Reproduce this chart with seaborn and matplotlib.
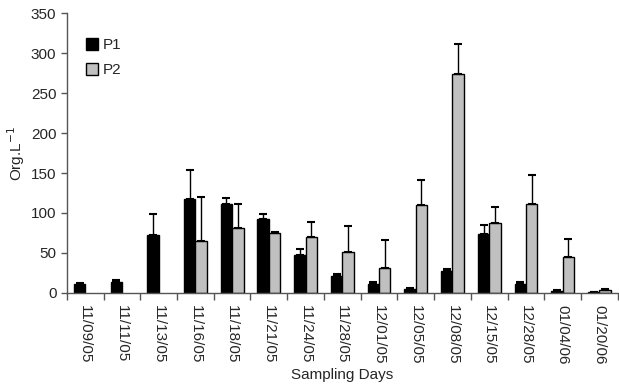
import numpy as np
import pandas as pd
import matplotlib
matplotlib.use("Agg")
import matplotlib.pyplot as plt
from matplotlib.patches import Patch
import seaborn as sns

# --- Data ---
dates = ['11/09/05', '11/11/05', '11/13/05', '11/16/05', '11/18/05', '11/21/05',
         '11/24/05', '11/28/05', '12/01/05', '12/05/05', '12/08/05', '12/15/05',
         '12/28/05', '01/04/06', '01/20/06']
p1_mean = [11.5, 14, 73, 118, 111, 93, 48, 21, 11, 5, 27, 74, 11.5, 2, 1]
p1_err = [1, 2, 26, 36, 8, 6, 7, 3, 2.5, 1, 2.5, 11, 2, 1, 0.5]
p2_mean = [np.nan, np.nan, np.nan, 65, 81, 75, 70, 51, 31, 110, 274, 88, 111, 45, 3]
p2_err = [np.nan, np.nan, np.nan, 55, 30, 1, 19, 33, 35, 31, 37, 19, 37, 22, 1.5]

series = ['P1', 'P2']
colors = {'P1': 'black', 'P2': '#C0C0C0'}

df = pd.DataFrame({
    'date': dates * 2,
    'series': ['P1'] * len(dates) + ['P2'] * len(dates),
    'value': p1_mean + p2_mean,
    'err': p1_err + p2_err,
})

# --- Plotting ---
sns.set_style('white')
plt.rcParams['font.family'] = ['Liberation Sans', 'DejaVu Sans']

fig = plt.figure(figsize=(6.19, 3.90), dpi=100)
ax = fig.add_axes([0.108, 0.249, 0.89, 0.717])

sns.barplot(data=df.dropna(subset=['value']), x='date', y='value', hue='series',
            order=dates, hue_order=series, palette=colors, width=0.62,
            edgecolor='black', linewidth=1, errorbar=None, legend=False, ax=ax)

# one-sided error bars on top of each bar
for cont, name in zip(ax.containers, series):
    sub = df[(df['series'] == name) & df['value'].notna()]
    xs = [b.get_x() + b.get_width() / 2 for b in cont]
    ys = [b.get_height() for b in cont]
    ax.errorbar(xs, ys, yerr=[np.zeros(len(sub)), sub['err'].values], fmt='none',
                ecolor='black', elinewidth=1, capsize=3, capthick=1.5, zorder=1)

ax.set_xlim(-0.5, len(dates) - 0.5)
ax.set_ylim(0, 350)
ax.set_yticks(range(0, 351, 50))
ax.tick_params(axis='y', labelsize=11, length=4, width=1, color='#555555', direction='out', left=True)

# labels at category centres, tick marks between categories
ax.set_xticks(range(len(dates)))
ax.set_xticklabels(dates, rotation=270, fontsize=11)
ax.tick_params(axis='x', which='major', length=0, pad=9)
ax.set_xticks(np.arange(-0.5, len(dates), 1), minor=True)
ax.tick_params(axis='x', which='minor', length=5, width=1, color='#555555', direction='out', bottom=True)

for side in ['top', 'right']:
    ax.spines[side].set_visible(False)
for side in ['left', 'bottom']:
    ax.spines[side].set_color('#555555')
    ax.spines[side].set_linewidth(1)

ax.set_ylabel('Org.L$^{-1}$', fontsize=11)
ax.yaxis.set_label_coords(-0.072, 0.5)
ax.set_xlabel('Sampling Days', fontsize=11)
ax.xaxis.set_label_coords(0.5, -0.27)

handles = [Patch(facecolor=colors[s], edgecolor='black', label=s) for s in series]
ax.legend(handles=handles, loc='upper left', bbox_to_anchor=(0.01, 0.96), frameon=False,
          fontsize=11, handlelength=0.8, handleheight=0.8, handletextpad=0.3, labelspacing=0.7)

fig.savefig('out.png', dpi=100)
